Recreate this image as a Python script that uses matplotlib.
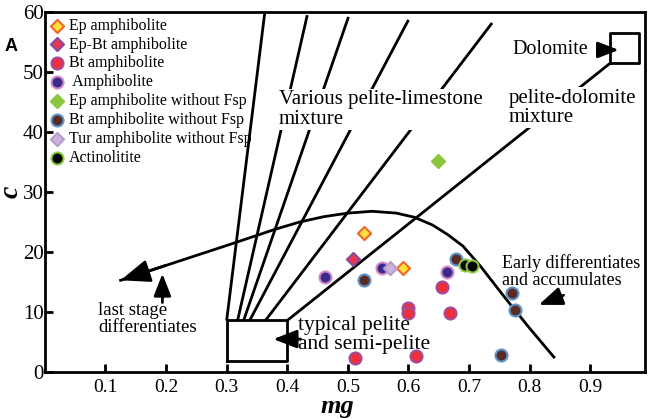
import matplotlib
matplotlib.use("Agg")
import matplotlib.pyplot as plt

plt.rcParams["font.family"] = ["Liberation Serif", "DejaVu Serif"]

# ---- samples: (mg, c) per rock type
ep_amph_mg = [0.527, 0.591]
ep_amph_c = [23.2, 17.3]
epbt_amph_mg = [0.508]
epbt_amph_c = [18.9]
bt_amph_mg = [0.656, 0.600, 0.600, 0.668, 0.512, 0.613]
bt_amph_c = [14.2, 10.6, 9.8, 9.9, 2.3, 2.7]
amph_mg = [0.462, 0.557, 0.663]
amph_c = [15.8, 17.3, 16.7]
ep_nofsp_mg = [0.648]
ep_nofsp_c = [35.2]
bt_nofsp_mg = [0.526, 0.679, 0.771, 0.775, 0.752]
bt_nofsp_c = [15.3, 18.8, 13.1, 10.4, 2.9]
tur_nofsp_mg = [0.569]
tur_nofsp_c = [17.4]
actin_mg = [0.694, 0.705]
actin_c = [17.8, 17.6]

# ---- field boundaries
pelite_box_mg = [0.30, 0.40, 0.40, 0.30, 0.30]
pelite_box_c = [1.8, 1.8, 8.6, 8.6, 1.8]
dolo_box_mg = [0.933, 0.981, 0.981, 0.933, 0.933]
dolo_box_c = [51.5, 51.5, 56.5, 56.5, 51.5]
# pelite-limestone mixing lines: (start mg, start c, end mg, end c)
mix_lines = [
    (0.300, 8.6, 0.363, 60.0),
    (0.318, 8.6, 0.433, 59.5),
    (0.328, 8.6, 0.501, 59.2),
    (0.338, 8.6, 0.600, 58.7),
    (0.364, 8.6, 0.738, 58.2),
]
dolo_line = (0.400, 8.6, 0.933, 51.5)
# igneous differentiation trend
trend_mg = [0.125, 0.30, 0.38, 0.42, 0.46, 0.50, 0.54, 0.58, 0.61, 0.64,
            0.665, 0.69, 0.72, 0.76, 0.80, 0.84]
trend_c = [15.3, 21.1, 23.8, 25.0, 25.9, 26.5, 26.8, 26.5, 25.8, 24.5,
           22.9, 21.0, 17.5, 12.3, 7.3, 2.5]

x_ticks = [0.1, 0.2, 0.3, 0.4, 0.5, 0.6, 0.7, 0.8, 0.9]
y_ticks = [0, 10, 20, 30, 40, 50, 60]

fig = plt.figure(figsize=(6.5, 4.19), dpi=100)
ax = fig.add_axes([0.069, 0.112, 0.923, 0.859])

LW = 2.0
for x0, y0, x1, y1 in mix_lines:
    ax.plot([x0, x1], [y0, y1], color="black", lw=LW, solid_capstyle="butt", zorder=1)
ax.plot([dolo_line[0], dolo_line[2]], [dolo_line[1], dolo_line[3]], color="black", lw=LW, zorder=1)
ax.plot(pelite_box_mg, pelite_box_c, color="black", lw=LW, zorder=1)
ax.plot(dolo_box_mg, dolo_box_c, color="black", lw=LW, zorder=1)
ax.plot(trend_mg, trend_c, color="black", lw=LW, zorder=1, solid_joinstyle="round")

arrow = dict(arrowstyle="-|>,head_length=0.9,head_width=0.35", color="black", lw=LW, shrinkA=0, shrinkB=0)
ax.annotate("", xy=(trend_mg[0], trend_c[0]), xytext=(0.20, 17.8), arrowprops=dict(arrow, mutation_scale=20))
ax.annotate("", xy=(0.194, 16.4), xytext=(0.194, 11.6), arrowprops=dict(arrow, mutation_scale=15))
ax.annotate("", xy=(0.377, 5.5), xytext=(0.422, 5.5), arrowprops=dict(arrow, mutation_scale=16))
ax.annotate("", xy=(0.815, 11.2), xytext=(0.856, 12.8), arrowprops=dict(arrow, mutation_scale=16))
ax.annotate("", xy=(0.947, 53.7), xytext=(0.912, 53.7), arrowprops=dict(arrow, mutation_scale=14))

white = dict(facecolor="white", edgecolor="none", pad=1.0)
ax.text(0.386, 43.8, "Various pelite-limestone\nmixture", fontsize=15, ha="left", va="center",
        linespacing=1.05, bbox=white, zorder=3)
ax.text(0.765, 44.1, "pelite-dolomite\nmixture", fontsize=15, ha="left", va="center",
        linespacing=1.0, bbox=white, zorder=3)
ax.text(0.772, 53.7, "Dolomite", fontsize=14.5, ha="left", va="center")
ax.text(0.418, 6.2, "typical pelite\nand semi-pelite", fontsize=15.5, ha="left", va="center", linespacing=1.0)
ax.text(0.755, 16.8, "Early differentiates\nand accumulates", fontsize=13, ha="left", va="center", linespacing=1.0)
ax.text(0.088, 8.8, "last stage\ndifferentiates", fontsize=13.5, ha="left", va="center", linespacing=1.0)

S_C, S_D, EW = 75, 45, 1.5
series = [
    (ep_amph_mg, ep_amph_c, "D", "#FFE03A", "#F2652A", S_D, "Ep amphibolite"),
    (epbt_amph_mg, epbt_amph_c, "D", "#E8384F", "#8A4A9E", S_D, "Ep-Bt amphibolite"),
    (bt_amph_mg, bt_amph_c, "o", "#EC2F3B", "#A04E9B", S_C, "Bt amphibolite"),
    (amph_mg, amph_c, "o", "#3B2A8E", "#D289C4", S_C, " Amphibolite"),
    (ep_nofsp_mg, ep_nofsp_c, "D", "#8CC63F", "#8CC63F", S_D, "Ep amphibolite without Fsp"),
    (bt_nofsp_mg, bt_nofsp_c, "o", "#5C2A24", "#5E95C9", S_C, "Bt amphibolite without Fsp"),
    (tur_nofsp_mg, tur_nofsp_c, "D", "#C9B3DA", "#B49CCB", S_D, "Tur amphibolite without Fsp"),
    (actin_mg, actin_c, "o", "black", "#8CC63F", S_C, "Actinolitite"),
]
for xs, ys, mk, fc, ec, s, label in series:
    ax.scatter(xs, ys, marker=mk, s=s, c=fc, edgecolors=ec, linewidths=EW, label=label, zorder=4)

leg = ax.legend(loc="upper left", bbox_to_anchor=(0.0, 1.0), frameon=False, fontsize=11.5,
                handletextpad=0.35, labelspacing=0.18, borderaxespad=0.1, borderpad=0.25,
                handlelength=0.8, scatterpoints=1)

ax.set_xlim(0, 0.99)
ax.set_ylim(0, 60)
ax.set_xticks(x_ticks)
ax.set_xticklabels([f"{v:.1f}" for v in x_ticks])
ax.set_yticks(y_ticks)
ax.tick_params(direction="in", length=6, width=2, labelsize=14, pad=5)
ax.tick_params(axis="y", pad=1, labelsize=15)
for sp in ax.spines.values():
    sp.set_linewidth(2)
    sp.set_zorder(5)

ax.set_xlabel("mg", fontsize=19, fontweight="bold", fontstyle="italic")
ax.xaxis.set_label_coords(0.487, -0.097)
ax.xaxis.label.set_va("center")
ax.set_ylabel("c", fontsize=20, fontweight="bold", fontstyle="italic")
ax.yaxis.set_label_coords(-0.0555, 0.5)
ax.yaxis.label.set_va("center")

fig.text(0.017, 0.888, "A", fontsize=13, fontweight="bold", family="Liberation Sans",
         ha="center", va="center")

fig.savefig("out.png", dpi=100)
